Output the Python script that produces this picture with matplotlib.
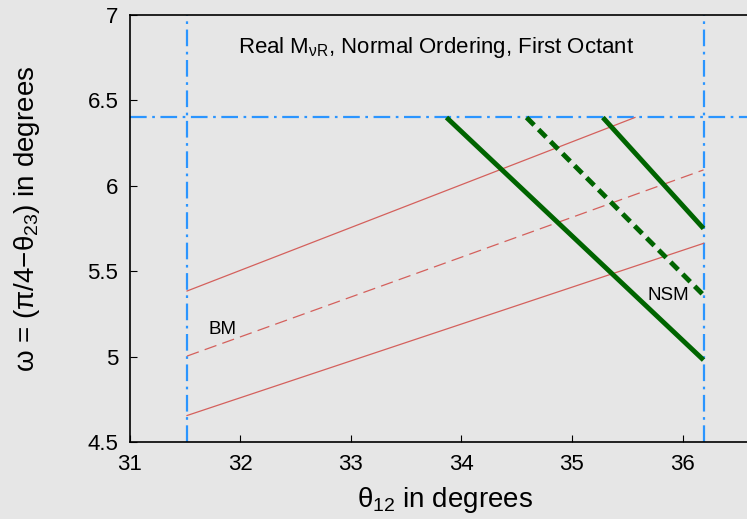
import matplotlib
matplotlib.use('Agg')
import matplotlib.pyplot as plt

# red "BM"-family lines (theta12, omega endpoints)
red_upper_x = [31.52, 35.57]
red_upper_y = [5.384, 6.4]
red_mid_x = [31.52, 36.19]
red_mid_y = [5.003, 6.093]
red_lower_x = [31.52, 36.19]
red_lower_y = [4.655, 5.663]

# green "NSM" lines
green_left_x = [33.866, 36.19]
green_left_y = [6.4, 4.98]
green_mid_x = [34.59, 36.19]
green_mid_y = [6.4, 5.36]
green_right_x = [35.28, 36.19]
green_right_y = [6.4, 5.75]

# bounds
theta12_min, theta12_max = 31.52, 36.19
omega_max = 6.4

x_ticks = [31, 32, 33, 34, 35, 36]
y_ticks = [4.5, 5, 5.5, 6, 6.5, 7]

plt.rcParams['font.family'] = ['Liberation Sans', 'DejaVu Sans']
plt.rcParams['mathtext.fontset'] = 'custom'
plt.rcParams['mathtext.rm'] = 'Liberation Sans'
plt.rcParams['mathtext.it'] = 'Liberation Sans'

bg = '#e6e6e6'
blue = '#2b95ff'
red = '#d4605c'
green = '#006400'

fig = plt.figure(figsize=(7.47, 5.19), dpi=100, facecolor=bg)
ax = fig.add_axes([129.5 / 747, 77 / 519, 663.6 / 747, 427 / 519])
ax.set_facecolor(bg)

dashdot = (0, (7.5, 2.5, 1.2, 2.5))
ax.axhline(omega_max, color=blue, lw=1.6, ls=dashdot)
ax.axvline(theta12_min, color=blue, lw=1.6, ls=dashdot)
ax.axvline(theta12_max, color=blue, lw=1.6, ls=dashdot)

ax.plot(red_upper_x, red_upper_y, color=red, lw=0.9)
ax.plot(red_mid_x, red_mid_y, color=red, lw=0.9, ls=(0, (10, 5)))
ax.plot(red_lower_x, red_lower_y, color=red, lw=0.9)

ax.plot(green_left_x, green_left_y, color=green, lw=3.5, solid_capstyle='butt')
ax.plot(green_mid_x, green_mid_y, color=green, lw=3.5, ls=(0, (2.2, 1.3)))
ax.plot(green_right_x, green_right_y, color=green, lw=3.5, solid_capstyle='butt')

ax.text(31.84, 5.16, 'BM', fontsize=13.5, ha='center', va='center')
ax.text(35.87, 5.36, 'NSM', fontsize=13.5, ha='center', va='center')
ax.text(33.77, 6.81, r'Real M$_{\mathrm{\nu R}}$, Normal Ordering, First Octant',
        fontsize=16, ha='center', va='center')

ax.set_xlim(31, 37)
ax.set_ylim(4.5, 7)
ax.set_xticks(x_ticks)
ax.set_xticklabels([str(t) for t in x_ticks])
ax.set_yticks(y_ticks)
ax.set_yticklabels(['4.5', '5', '5.5', '6', '6.5', '7'])
ax.tick_params(direction='in', length=5, labelsize=16)
ax.tick_params(axis='x', pad=9)
ax.tick_params(axis='y', pad=8)
for s in ax.spines.values():
    s.set_linewidth(1.2)

ax.set_xlabel(r'$\theta_{12}$ in degrees', fontsize=20, va='center')
ax.xaxis.set_label_coords(0.476, -0.136)
ax.set_ylabel(r'$\omega$ = ($\pi$/4$-\theta_{23}$) in degrees', fontsize=20, va='center')
ax.yaxis.set_label_coords(-0.154, 0.522)

fig.savefig('out.png', dpi=100, facecolor=bg)
